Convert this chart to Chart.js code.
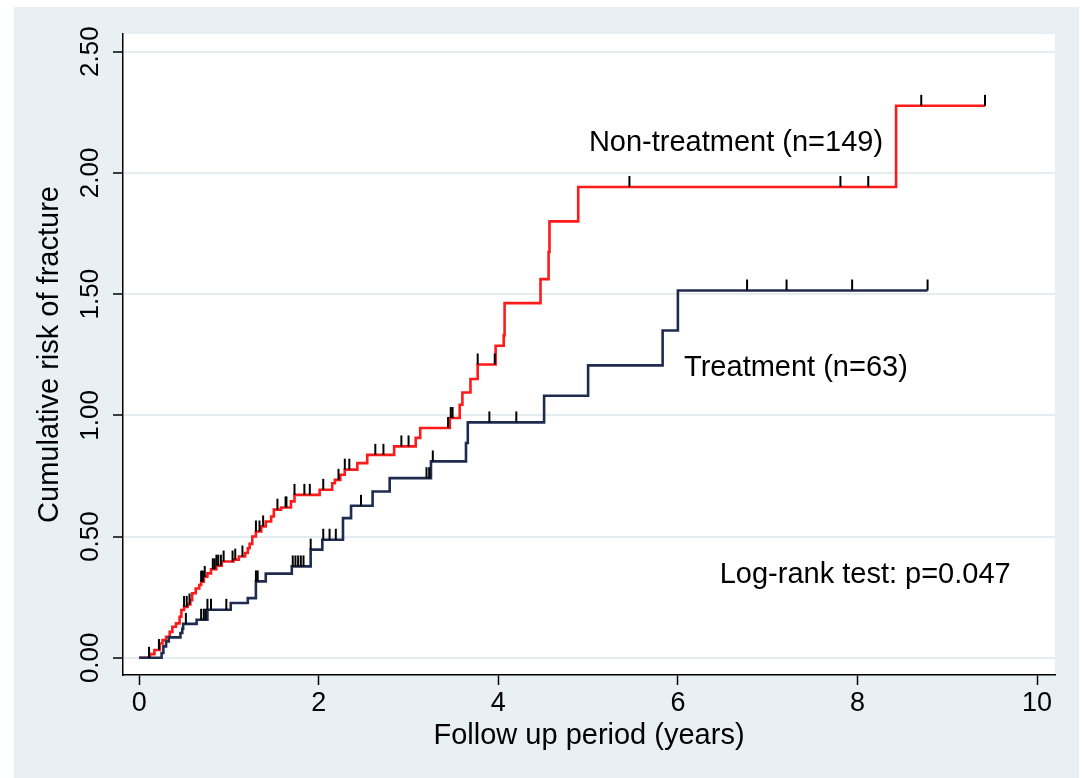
<!DOCTYPE html>
<html>
<head>
<meta charset="utf-8">
<script src="https://cdn.jsdelivr.net/npm/chart.js@4.4.1/dist/chart.umd.min.js"></script>
<style>
  html, body { margin: 0; padding: 0; background: #fff; }
  #wrap { width: 1085px; height: 778px; }
</style>
</head>
<body>
<div id="wrap"><canvas id="km" width="1085" height="778"></canvas></div>
<script>
// ---- Data ----

// Non-treatment (n=149): step times and cumulative risk after each step
const nonTime = [0, 0.12, 0.17, 0.23, 0.26, 0.30, 0.34, 0.37, 0.41, 0.45, 0.47, 0.50, 0.54, 0.57,
    0.59, 0.63, 0.67, 0.69, 0.72, 0.76, 0.80, 0.86, 0.92, 1.05, 1.11, 1.18, 1.21, 1.23, 1.26,
    1.30, 1.36, 1.41, 1.47, 1.50, 1.58, 1.69, 1.73, 2.01, 2.15, 2.18, 2.24, 2.29, 2.43, 2.54,
    2.84, 3.08, 3.13, 3.46, 3.57, 3.60, 3.69, 3.77, 3.97, 4.06, 4.07, 4.47, 4.56, 4.57, 4.89,
    8.43, 9.42];
const nonRisk = [0, 0.015, 0.032, 0.059, 0.073, 0.087, 0.107, 0.128, 0.142, 0.169, 0.197, 0.21,
    0.22, 0.238, 0.266, 0.286, 0.30, 0.314, 0.334, 0.348, 0.365, 0.38, 0.397, 0.405, 0.418,
    0.432, 0.452, 0.47, 0.50, 0.521, 0.542, 0.562, 0.583, 0.611, 0.62, 0.645, 0.672, 0.693,
    0.72, 0.734, 0.755, 0.776, 0.803, 0.837, 0.872, 0.907, 0.948, 0.989, 1.044, 1.094, 1.15,
    1.21, 1.287, 1.33, 1.463, 1.562, 1.674, 1.80, 1.942, 2.277, 2.277];
const nonCensor = [0.11, 0.22, 0.50, 0.53, 0.56, 0.69, 0.70, 0.71, 0.73, 0.82, 0.84, 0.86, 0.88,
    0.91, 0.94, 1.04, 1.07, 1.15, 1.30, 1.34, 1.38, 1.54, 1.63, 1.64, 1.73, 1.84, 1.90, 2.05,
    2.22, 2.29, 2.34, 2.63, 2.72, 2.92, 3.00, 3.44, 3.47, 3.49, 3.77, 3.96, 5.46, 7.81, 8.12,
    8.71, 9.42];

// Treatment (n=63)
const treatTime = [0, 0.25, 0.27, 0.30, 0.33, 0.46, 0.48, 0.49, 0.64, 0.76, 1.02, 1.21, 1.30,
    1.41, 1.70, 1.91, 2.04, 2.27, 2.36, 2.60, 2.79, 3.25, 3.64, 3.66, 4.51, 5.00, 5.83, 6.00, 8.78];
const treatRisk = [0, 0.02, 0.047, 0.067, 0.084, 0.102, 0.12, 0.14, 0.157, 0.198, 0.226, 0.246,
    0.315, 0.347, 0.377, 0.446, 0.487, 0.576, 0.627, 0.686, 0.741, 0.81, 0.886, 0.971, 1.081,
    1.206, 1.35, 1.515, 1.515];
const treatCensor = [0.52, 0.69, 0.72, 0.74, 0.76, 0.80, 0.97, 1.30, 1.32, 1.71, 1.74, 1.77, 1.80,
    1.83, 1.91, 2.05, 2.12, 2.19, 2.47, 3.20, 3.23, 3.27, 3.90, 4.20, 6.77, 7.21, 7.94, 8.78];

const xTickValues = [0, 2, 4, 6, 8, 10];
const yTickValues = [0, 0.5, 1, 1.5, 2, 2.5];
const yTickLabels = ["0.00", "0.50", "1.00", "1.50", "2.00", "2.50"];

const noteText = ["Non-treatment (n=149)", "Treatment (n=63)", "Log-rank test: p=0.047"];
const noteX = [6.647, 7.315, 8.086];
const noteY = [2.125, 1.196, 0.341];

// ---- Helpers ----

const FONT = '"Liberation Sans", Arial, Helvetica, sans-serif';
const RED = "#ff1a1a";
const NAVY = "#1f2c4f";

function steps(times, risks) {
    return times.map((t, i) => ({ x: t, y: risks[i] }));
}

// value of the step function at time t
function stepAt(times, risks, t) {
    let v = risks[0];
    for (let i = 0; i < times.length; i++) {
        if (times[i] <= t) v = risks[i];
    }
    return v;
}

function censorMarks(times, risks, censor) {
    return censor.map((t) => ({ x: t, y: stepAt(times, risks, t) }));
}

// small upward tick, drawn centred on the point so the visible half sits above it
function tickMark() {
    const c = document.createElement("canvas");
    c.width = 4;
    c.height = 24;
    const g = c.getContext("2d");
    g.strokeStyle = "#000";
    g.lineWidth = 2;
    g.beginPath();
    g.moveTo(2, 1);
    g.lineTo(2, 12);
    g.stroke();
    return c;
}

// ---- Plugins ----

const backdrop = {
    id: "backdrop",
    beforeDraw(chart) {
        const { ctx, chartArea: a } = chart;
        ctx.save();
        ctx.fillStyle = "#ffffff";
        ctx.fillRect(0, 0, chart.width, chart.height);
        ctx.fillStyle = "#e9f0f3";
        ctx.fillRect(14, 7, 1065, 771);
        ctx.fillStyle = "#ffffff";
        ctx.fillRect(a.left, a.top, a.right - a.left, a.bottom - a.top);
        ctx.restore();
    },
};

const extraText = {
    id: "extraText",
    afterDraw(chart) {
        const { ctx, scales: { x, y } } = chart;
        ctx.save();
        ctx.fillStyle = "#000";
        ctx.textAlign = "center";
        ctx.textBaseline = "middle";
        // Stata-style vertical y tick labels
        ctx.font = `26px ${FONT}`;
        yTickValues.forEach((v, i) => {
            ctx.save();
            ctx.translate(91, y.getPixelForValue(v));
            ctx.rotate(-Math.PI / 2);
            ctx.fillText(yTickLabels[i], 0, 0);
            ctx.restore();
        });
        ctx.font = `29px ${FONT}`;
        noteText.forEach((t, i) => {
            ctx.fillText(t, x.getPixelForValue(noteX[i]), y.getPixelForValue(noteY[i]));
        });
        ctx.restore();
    },
};

// ---- Chart ----

Chart.defaults.font.family = FONT;
Chart.defaults.color = "#000";

const tick = tickMark();

new Chart(document.getElementById("km").getContext("2d"), {
    type: "line",
    data: {
        datasets: [
            {
                label: "Non-treatment censored",
                data: censorMarks(nonTime, nonRisk, nonCensor),
                showLine: false,
                pointStyle: tick,
                pointRadius: 5,
                order: 0,
            },
            {
                label: "Treatment censored",
                data: censorMarks(treatTime, treatRisk, treatCensor),
                showLine: false,
                pointStyle: tick,
                pointRadius: 5,
                order: 0,
            },
            {
                label: "Treatment (n=63)",
                data: steps(treatTime, treatRisk),
                borderColor: NAVY,
                borderWidth: 2.6,
                stepped: true,
                pointRadius: 0,
                fill: false,
                order: 1,
            },
            {
                label: "Non-treatment (n=149)",
                data: steps(nonTime, nonRisk),
                borderColor: RED,
                borderWidth: 2.6,
                stepped: true,
                pointRadius: 0,
                fill: false,
                order: 2,
            },
        ],
    },
    options: {
        responsive: false,
        animation: false,
        events: [],
        layout: { padding: { left: 0, top: 34, right: 30, bottom: 0 } },
        plugins: {
            legend: { display: false },
            tooltip: { enabled: false },
        },
        scales: {
            x: {
                type: "linear",
                min: -0.18,
                max: 10.2,
                afterBuildTicks: (s) => { s.ticks = xTickValues.map((v) => ({ value: v })); },
                afterFit: (s) => { s.height = 103; },
                grid: {
                    drawOnChartArea: false,
                    tickLength: 10,
                    tickColor: "#000",
                    tickWidth: 1.5,
                },
                border: { display: true, color: "#000", width: 1.5 },
                ticks: {
                    font: { size: 27 },
                    padding: 2,
                    maxRotation: 0,
                    callback: (v) => String(v),
                },
                title: {
                    display: true,
                    text: "Follow up period (years)",
                    font: { size: 29 },
                    padding: { top: 0, bottom: 25 },
                },
            },
            y: {
                type: "linear",
                min: -0.071,
                max: 2.573,
                afterBuildTicks: (s) => { s.ticks = yTickValues.map((v) => ({ value: v })); },
                afterFit: (s) => { s.width = 123; },
                grid: {
                    color: "#e4ecef",
                    lineWidth: 2,
                    tickLength: 10,
                    tickColor: "#000",
                    tickWidth: 1.5,
                },
                border: { display: true, color: "#000", width: 1.5 },
                ticks: { display: false },
                title: {
                    display: true,
                    text: "Cumulative risk of fracture",
                    font: { size: 29 },
                    padding: { top: 33, bottom: 0 },
                },
            },
        },
    },
    plugins: [backdrop, extraText],
});
</script>
</body>
</html>
